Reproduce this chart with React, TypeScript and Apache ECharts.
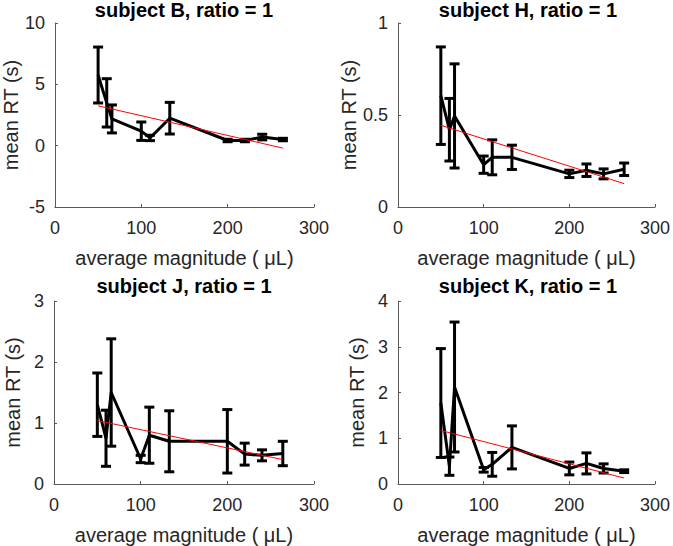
import React, { useEffect, useRef } from "react";
import * as echarts from "echarts";

const magnitudes = [50, 60, 66, 100, 110, 133, 200, 220, 240, 264];

const titles = ["subject B, ratio = 1", "subject H, ratio = 1", "subject J, ratio = 1", "subject K, ratio = 1"];

const meansB = [5.76, 3.49, 2.18, 1.18, 0.63, 2.24, 0.42, 0.42, 0.7, 0.5];
const errsB = [2.28, 1.97, 1.14, 0.75, 0.22, 1.29, 0.1, 0.1, 0.23, 0.1];
const fitB = [3.25, -0.2];

const meansH = [0.605, 0.42, 0.495, 0.23, 0.27, 0.27, 0.18, 0.2, 0.18, 0.205];
const errsH = [0.265, 0.17, 0.283, 0.047, 0.095, 0.066, 0.02, 0.034, 0.027, 0.034];
const fitH = [0.444, 0.127];

const meansJ = [1.3, 0.75, 1.5, 0.41, 0.8, 0.7, 0.7, 0.49, 0.47, 0.5];
const errsJ = [0.52, 0.46, 0.88, 0.06, 0.46, 0.5, 0.52, 0.18, 0.09, 0.2];
const fitJ = [1.04, 0.4];

const meansK = [1.77, 0.39, 2.12, 0.31, 0.43, 0.8, 0.34, 0.45, 0.34, 0.28];
const errsK = [1.19, 0.2, 1.42, 0.05, 0.26, 0.47, 0.14, 0.23, 0.1, 0.03];
const fitK = [1.17, 0.13];

const fitX = [50, 264];

const yRanges = [
  { min: -5, max: 10, interval: 5 },
  { min: 0, max: 1, interval: 0.5 },
  { min: 0, max: 3, interval: 1 },
  { min: 0, max: 4, interval: 1 },
];

const xTicks = { min: 0, max: 300, interval: 100 };

const FONT = "'Liberation Sans', Arial, sans-serif";
const TEXT = "#262626";
const AXIS = "#5a5a5a";

export default function App() {
  const ref = useRef<HTMLDivElement>(null);
  useEffect(() => {
    document.body.style.margin = "0";
    const chart = echarts.init(ref.current!, null, { renderer: "svg" });
    const panels = [
      { means: meansB, errs: errsB, fit: fitB },
      { means: meansH, errs: errsH, fit: fitH },
      { means: meansJ, errs: errsJ, fit: fitJ },
      { means: meansK, errs: errsK, fit: fitK },
    ];
    const lefts = [54, 398, 54, 398];
    const tops = [23, 23, 301, 301];
    const titleTops = [0, 0, 276, 276];
    const W = 260;
    const H = 184;
    const grid = panels.map((_, i) => ({ left: lefts[i], top: tops[i], width: W, height: H }));
    const title = panels.map((_, i) => ({
      text: titles[i],
      left: lefts[i] + W / 2,
      top: titleTops[i],
      textAlign: "center",
      padding: 0,
      textStyle: { fontFamily: FONT, fontSize: 20, fontWeight: "bold", color: "#000" },
    }));
    const xAxis = panels.map((_, i) => ({
      type: "value",
      gridIndex: i,
      min: xTicks.min,
      max: xTicks.max,
      interval: xTicks.interval,
      name: "average magnitude ( μL)",
      nameLocation: "middle",
      nameGap: 41,
      nameTextStyle: { fontFamily: FONT, fontSize: 20, color: TEXT },
      axisLine: { show: true, onZero: false, lineStyle: { color: AXIS, width: 1 } },
      axisTick: { show: true, inside: true, length: 3, lineStyle: { color: AXIS } },
      axisLabel: { fontFamily: FONT, fontSize: 18, color: TEXT, margin: 12 },
      splitLine: { show: false },
    }));
    const yAxis = panels.map((_, i) => ({
      type: "value",
      gridIndex: i,
      min: yRanges[i].min,
      max: yRanges[i].max,
      interval: yRanges[i].interval,
      name: "mean RT (s)",
      nameLocation: "middle",
      nameGap: 31,
      nameTextStyle: { fontFamily: FONT, fontSize: 20, color: TEXT },
      axisLine: { show: true, onZero: false, lineStyle: { color: AXIS, width: 1 } },
      axisTick: { show: true, inside: true, length: 3, lineStyle: { color: AXIS } },
      axisLabel: { fontFamily: FONT, fontSize: 18, color: TEXT, margin: 10 },
      splitLine: { show: false },
    }));
    const series: any[] = [];
    panels.forEach((p, i) => {
      series.push({
        type: "line",
        xAxisIndex: i,
        yAxisIndex: i,
        data: magnitudes.map((x, k) => [x, p.means[k]]),
        showSymbol: false,
        lineStyle: { color: "#000", width: 3 },
        z: 2,
      });
      series.push({
        type: "custom",
        xAxisIndex: i,
        yAxisIndex: i,
        data: magnitudes.map((x, k) => [x, p.means[k], p.errs[k]]),
        renderItem: (params: any, api: any) => {
          const x = api.value(0);
          const m = api.value(1);
          const e = api.value(2);
          const top = api.coord([x, m + e]);
          const bot = api.coord([x, m - e]);
          const half = 5;
          const style = { stroke: "#000", lineWidth: 3, fill: "none" };
          return {
            type: "group",
            children: [
              { type: "line", shape: { x1: top[0], y1: top[1], x2: bot[0], y2: bot[1] }, style },
              { type: "line", shape: { x1: top[0] - half, y1: top[1], x2: top[0] + half, y2: top[1] }, style },
              { type: "line", shape: { x1: bot[0] - half, y1: bot[1], x2: bot[0] + half, y2: bot[1] }, style },
            ],
          };
        },
        z: 3,
      });
      series.push({
        type: "line",
        xAxisIndex: i,
        yAxisIndex: i,
        data: fitX.map((x, k) => [x, p.fit[k]]),
        showSymbol: false,
        lineStyle: { color: "#ff0000", width: 1 },
        z: 4,
      });
    });
    chart.setOption({
      animation: false,
      backgroundColor: "#fff",
      title,
      grid,
      xAxis,
      yAxis,
      series,
    });
    return () => chart.dispose();
  }, []);
  return <div ref={ref} style={{ width: 673, height: 546 }} />;
}
